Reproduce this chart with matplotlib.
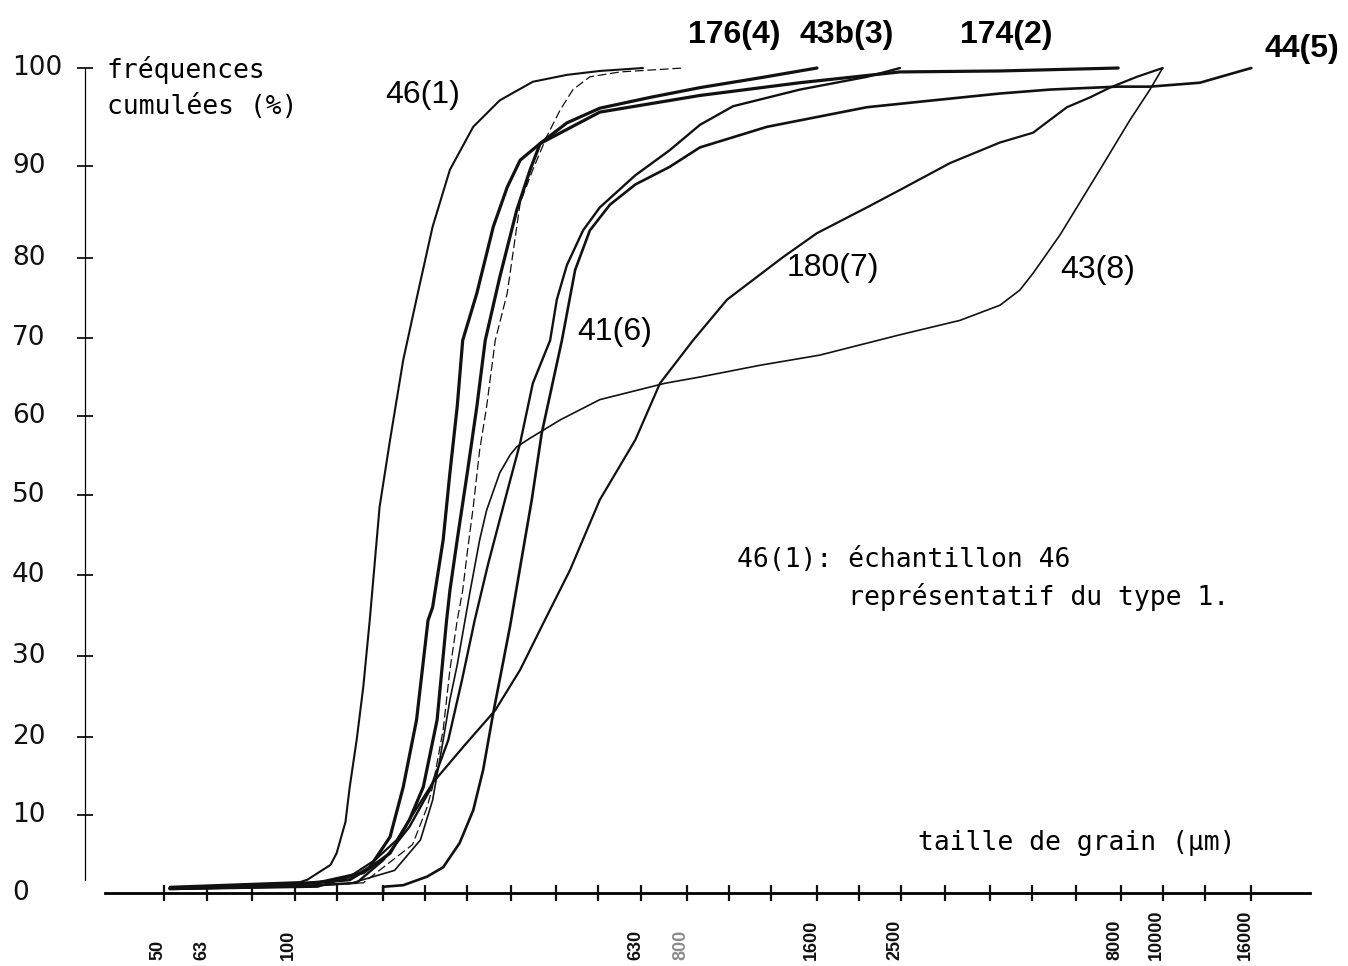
import numpy as np
import matplotlib
matplotlib.use("Agg")
import matplotlib.pyplot as plt
import matplotlib.transforms as mtransforms

# Cumulative grain-size curves
# grain size in µm, cumulative frequency in %
size_1 = [51.6, 103, 107, 121, 125, 131, 134, 139, 144, 149, 157, 166, 178, 193, 208, 228, 258, 297, 354, 424, 505, 635]
pct_1 = [0.8, 1.4, 1.7, 3.6, 5.1, 9.1, 13.6, 19.6, 26.2, 34.4, 48.5, 57.0, 67.2, 76.0, 83.4, 89.6, 94.0, 96.7, 98.6, 99.3, 99.7, 100]

size_2 = [51.6, 113, 144, 166, 184, 198, 213, 224, 228, 237, 250, 263, 275, 297, 325, 349, 368, 505, 859, 1460, 2480, 4220, 7900]
pct_2 = [0.6, 1.3, 2.6, 5.1, 9.4, 13.6, 22.1, 34.4, 38.1, 44.4, 52.8, 61.2, 69.7, 77.6, 85.2, 89.6, 92.3, 95.5, 97.2, 98.5, 99.6, 99.7, 100]

size_3 = [51.6, 103, 134, 149, 166, 178, 191, 203, 208, 220, 228, 237, 244, 263, 287, 309, 331, 368, 424, 505, 659, 859, 1181, 1598]
pct_3 = [0.6, 1.2, 1.7, 3.3, 7.2, 13.6, 22.1, 34.4, 36.0, 44.4, 52.8, 61.2, 69.7, 75.6, 83.4, 87.7, 90.6, 92.3, 94.4, 95.9, 97.0, 98.0, 99.0, 100]

size_4 = [51.6, 103, 144, 187, 202, 208, 220, 228, 237, 244, 250, 258, 267, 277, 290, 309, 331, 354, 381, 409, 438, 479, 562, 785]
pct_4 = [0.5, 0.9, 1.3, 6.2, 11.0, 13.6, 20.9, 28.3, 34.4, 38.1, 42.8, 48.5, 55.7, 61.2, 69.7, 75.6, 86.0, 89.6, 93.0, 95.7, 97.8, 99.1, 99.6, 100]

size_5 = [160, 160, 178, 202, 220, 240, 258, 272, 287, 302, 314, 331, 352, 371, 413, 443, 479, 533, 610, 731, 859, 1226, 2083, 2958, 4220, 5500, 7850, 9350, 12190, 13340, 16000]
pct_5 = [0, 0.8, 1.0, 2.1, 3.3, 6.4, 10.6, 15.8, 23.0, 29.1, 33.8, 41.0, 49.4, 57.8, 69.7, 78.5, 83.0, 85.8, 88.0, 89.9, 91.9, 94.0, 96.0, 96.7, 97.4, 97.8, 98.1, 98.1, 98.5, 99.0, 100]

size_6 = [51.6, 103, 139, 160, 184, 205, 226, 243, 260, 279, 297, 314, 331, 354, 388, 402, 424, 462, 505, 610, 731, 859, 1024, 1460, 2083, 2482]
pct_6 = [0.5, 0.9, 1.3, 4.2, 8.5, 13.2, 19.6, 27.0, 34.4, 41.3, 46.9, 51.9, 56.6, 64.2, 69.7, 74.8, 79.1, 83.0, 85.5, 89.0, 91.6, 94.2, 96.1, 97.8, 99.1, 100]

size_7 = [51.6, 113, 134, 153, 172, 208, 247, 290, 331, 377, 431, 505, 610, 695, 828, 992, 1335, 1598, 2083, 2482, 3237, 4220, 5030, 5500, 6020, 6800, 7560, 8720, 10000]
pct_7 = [0.5, 0.8, 2.1, 4.2, 6.8, 14.1, 19.0, 23.3, 28.3, 34.4, 40.6, 49.4, 57.0, 64.2, 69.7, 74.8, 80.1, 82.7, 85.5, 87.4, 90.3, 92.4, 93.4, 94.7, 96.0, 97.0, 98.0, 99.1, 100]

size_8 = [51.6, 103, 134, 170, 195, 208, 220, 228, 237, 247, 254, 267, 277, 297, 314, 325, 349, 409, 505, 714, 859, 1180, 1620, 2480, 3410, 4220, 4690, 5030, 5800, 7170, 8410, 9350, 10000]
pct_8 = [0.5, 0.8, 1.2, 2.9, 6.8, 11.9, 19.6, 24.6, 28.9, 34.4, 38.1, 44.4, 48.1, 52.8, 55.1, 56.1, 57.2, 59.5, 62.1, 64.2, 65.0, 66.5, 67.8, 70.4, 72.2, 74.1, 76.0, 78.1, 82.5, 89.6, 94.7, 97.8, 100]

names = ['46(1)', '174(2)', '43b(3)', '176(4)', '44(5)', '41(6)', '180(7)', '43(8)']

# sieve sizes marked on the x axis, and the ones that carry a label
sieves = [50, 63, 80, 100, 125, 160, 200, 250, 315, 400, 500, 630, 800, 1000,
          1250, 1600, 2000, 2500, 3150, 4000, 5000, 6300, 8000, 10000, 12500, 16000]
xlab_vals = [50, 63, 100, 630, 800, 1600, 2500, 8000, 10000, 16000]
ylab_vals = [0, 10, 20, 30, 40, 50, 60, 70, 80, 90, 100]

# where the curve names sit (µm, %)
name_x = [161.5, 3414, 1460, 806, 17200, 447, 1363, 5800]
name_y = [97.2, 103.4, 103.4, 103.4, 101.9, 70.8, 78.8, 78.5]

# the % axis of the original is drawn by hand and is not evenly spaced:
# pixel height of each 10 % mark above the x axis
ax_pct = [-10, 0, 10, 20, 30, 40, 50, 60, 70, 80, 90, 100, 120]
ax_len = [-80, 0, 78, 156, 237, 318, 398, 477, 555, 635, 727, 825, 1021]


def fwd(v):
    return np.interp(v, ax_pct, ax_len)


def inv(u):
    return np.interp(u, ax_len, ax_pct)


W, H = 1348, 966
fig = plt.figure(figsize=(W / 100, H / 100), dpi=100)
ax = fig.add_axes([85 / W, 73 / H, 1245 / W, 873 / H])
ax.set_xscale('log')
ax.set_yscale('function', functions=(fwd, inv))
ax.set_xlim(32.9, 24300)
ax.set_ylim(0, 104.9)

sizes = [size_1, size_2, size_3, size_4, size_5, size_6, size_7, size_8]
pcts = [pct_1, pct_2, pct_3, pct_4, pct_5, pct_6, pct_7, pct_8]
widths = [1.5, 2.3, 2.3, 0.9, 1.9, 1.7, 1.6, 1.2]
for i in range(len(sizes)):
    ls = (0, (7, 3)) if names[i] == '176(4)' else '-'
    ax.plot(sizes[i], pcts[i], color='#111111', lw=widths[i], ls=ls,
            clip_on=False, solid_capstyle='round')

# axes drawn like the original: thin % axis, heavy size axis
for s in ['top', 'right']:
    ax.spines[s].set_visible(False)
ax.spines['left'].set_linewidth(0.9)
ax.spines['left'].set_bounds(1.7, 100)
ax.spines['bottom'].set_linewidth(2.0)
ax.spines['bottom'].set_bounds(36.6, 21850)

ax.set_xticks(sieves)
ax.set_xticks([], minor=True)
ax.set_xticklabels([])
ax.tick_params(axis='x', direction='inout', length=11, width=1.6, color='#111111')
ax.set_yticks(ylab_vals[1:])
ax.set_yticks([], minor=True)
ax.set_yticklabels([])
ax.tick_params(axis='y', direction='inout', length=12, width=1.3, color='#111111')

# tick labels placed as in the scan
xtr = mtransforms.blended_transform_factory(ax.transData, ax.transAxes)
xtr = xtr + mtransforms.ScaledTranslation(-6 / 100, 0, fig.dpi_scale_trans)
for v in xlab_vals:
    ax.text(v, -0.0767, str(v), transform=xtr, rotation=90, ha='center', va='bottom',
            fontsize=13, fontweight='bold', family='Liberation Sans',
            color='0.55' if v == 800 else '#111111')

ytr = mtransforms.blended_transform_factory(fig.transFigure, ax.transData)
for v in ylab_vals:
    ax.text(12 / W, v, str(v), transform=ytr, ha='left', va='center',
            fontsize=19, family='DejaVu Sans', color='#111111')

mono = 'DejaVu Sans Mono'
ax.text(36.9, 98.0, 'fréquences\ncumulées (%)', ha='left', va='center',
        fontsize=19, family=mono, linespacing=1.5)
ax.text(2731, 6.4, 'taille de grain (µm)', ha='left', va='center',
        fontsize=19, family=mono)
ax.text(1046, 39.5, '46(1): échantillon 46\n       représentatif du type 1.',
        ha='left', va='center', fontsize=19, family=mono, linespacing=1.45)

for i in range(len(names)):
    bold = names[i] in ('174(2)', '43b(3)', '176(4)', '44(5)')
    ax.text(name_x[i], name_y[i], names[i], ha='left', va='center',
            fontsize=23, fontweight='bold' if bold else 'normal',
            family='Liberation Sans')

fig.savefig('out.png', dpi=100)
